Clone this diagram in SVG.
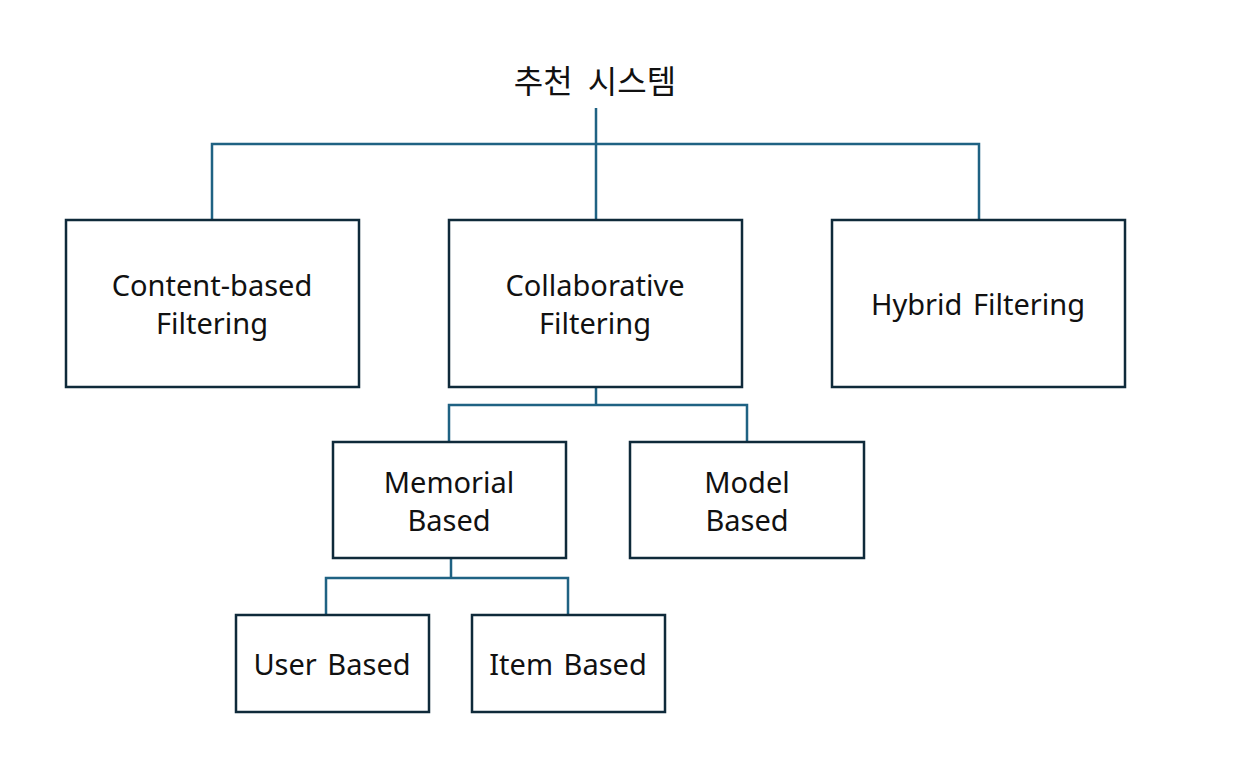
<svg xmlns="http://www.w3.org/2000/svg" width="1242" height="768" viewBox="0 0 1242 768">
<style>
.box{fill:#ffffff;stroke:#0f2a3a;stroke-width:2.5}
.conn{fill:none;stroke:#1f6283;stroke-width:2.5}
.t{font-family:"Noto Sans","Open Sans",sans-serif;font-size:29px;fill:#111;text-anchor:middle;word-spacing:3px}
.title{font-family:"Noto Sans CJK KR",sans-serif;font-size:32px;fill:#111;text-anchor:middle;word-spacing:8px}
</style>
<rect width="1242" height="768" fill="#ffffff"/>
<g id="connectors">
<path class="conn" d="M596,108 V220 M212,220 V144 H979 V220"/>
<path class="conn" d="M596,387 V405 M449,442 V405 H747 V442"/>
<path class="conn" d="M451,558 V578 M326,615 V578 H568 V615"/>
</g>
<g id="root"><text class="title" x="595" y="93">추천 시스템</text></g>
<g id="content"><rect class="box" x="66" y="220" width="293" height="167"/><text class="t" x="212" y="296">Content-based</text><text class="t" x="212" y="334">Filtering</text></g>
<g id="collab"><rect class="box" x="449" y="220" width="293" height="167"/><text class="t" x="595" y="296">Collaborative</text><text class="t" x="595" y="334">Filtering</text></g>
<g id="hybrid"><rect class="box" x="832" y="220" width="293" height="167"/><text class="t" x="978" y="315">Hybrid Filtering</text></g>
<g id="memorial"><rect class="box" x="333" y="442" width="233" height="116"/><text class="t" x="449" y="493">Memorial</text><text class="t" x="449" y="531">Based</text></g>
<g id="model"><rect class="box" x="630" y="442" width="234" height="116"/><text class="t" x="747" y="493">Model</text><text class="t" x="747" y="531">Based</text></g>
<g id="user"><rect class="box" x="236" y="615" width="193" height="97"/><text class="t" x="332" y="675">User Based</text></g>
<g id="item"><rect class="box" x="472" y="615" width="193" height="97"/><text class="t" x="568" y="675">Item Based</text></g>
</svg>
